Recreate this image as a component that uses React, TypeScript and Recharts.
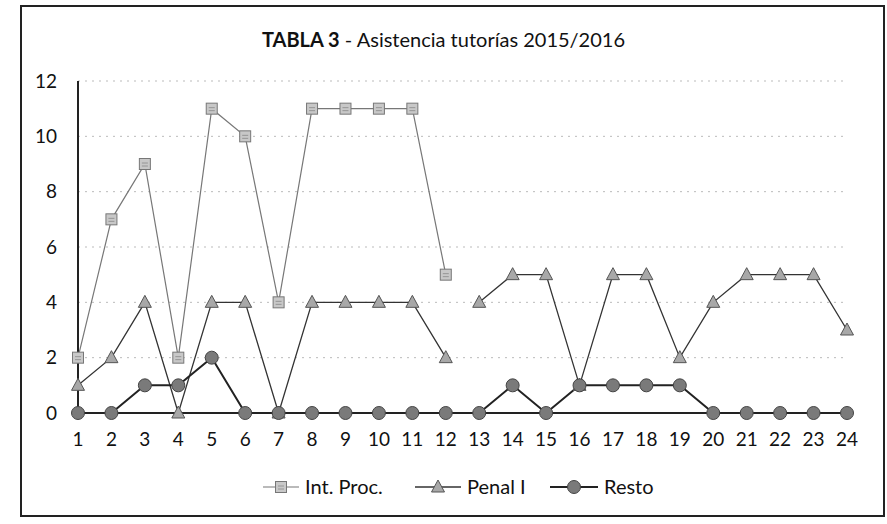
import React from "react";
import { LineChart, Line, XAxis, YAxis, CartesianGrid, Legend } from "recharts";

const categories = [1, 2, 3, 4, 5, 6, 7, 8, 9, 10, 11, 12, 13, 14, 15, 16, 17, 18, 19, 20, 21, 22, 23, 24];
const intProc: (number | null)[] = [2, 7, 9, 2, 11, 10, 4, 11, 11, 11, 11, 5, null, null, null, null, null, null, null, null, null, null, null, null];
const penalI: number[] = [1, 2, 4, 0, 4, 4, 0, 4, 4, 4, 4, 2, 4, 5, 5, 1, 5, 5, 2, 4, 5, 5, 5, 3];
const resto: number[] = [0, 0, 1, 1, 2, 0, 0, 0, 0, 0, 0, 0, 0, 1, 0, 1, 1, 1, 1, 0, 0, 0, 0, 0];
const penalBreakAfter = 12; // the Penal I line is not drawn between 12 and 13
const yTicks = [0, 2, 4, 6, 8, 10, 12];
const seriesNames = ["Int. Proc.", "Penal I", "Resto"];

const data = categories.map((c, i) => ({
  cat: c,
  intProc: intProc[i],
  penalA: i < penalBreakAfter ? penalI[i] : null,
  penalB: i >= penalBreakAfter ? penalI[i] : null,
  resto: resto[i],
}));

const FONT = "Lato, 'Open Sans', sans-serif";

const SquareDot = (props: any) => {
  const { cx, cy } = props;
  if (cx == null || cy == null || props.value == null) return null;
  return (
    <g>
      <rect x={cx - 5.5} y={cy - 5.5} width={11} height={11} fill="#c8c8c8" stroke="#777" strokeWidth={1} />
      <line x1={cx - 3} y1={cy - 1} x2={cx + 3} y2={cy - 1} stroke="#888" strokeWidth={0.8} />
      <line x1={cx - 3} y1={cy + 2} x2={cx + 3} y2={cy + 2} stroke="#888" strokeWidth={0.8} />
    </g>
  );
};

const TriDot = (props: any) => {
  const { cx, cy } = props;
  if (cx == null || cy == null || props.value == null) return null;
  return (
    <polygon
      points={`${cx},${cy - 7} ${cx - 6.5},${cy + 5} ${cx + 6.5},${cy + 5}`}
      fill="#a8a8a8"
      stroke="#555"
      strokeWidth={1}
    />
  );
};

const CircleDot = (props: any) => {
  const { cx, cy } = props;
  if (cx == null || cy == null || props.value == null) return null;
  return <circle cx={cx} cy={cy} r={6.5} fill="#7a7a7a" stroke="#444" strokeWidth={1} />;
};

const LegendContent = () => {
  const items = [
    { name: seriesNames[0], color: "#777", w: 1.2, Dot: SquareDot, x: 263, tx: 305 },
    { name: seriesNames[1], color: "#333", w: 1.3, Dot: TriDot, x: 415, tx: 467 },
    { name: seriesNames[2], color: "#222", w: 2, Dot: CircleDot, x: 550, tx: 604 },
  ];
  return (
    <svg width={887} height={30} style={{ display: "block" }}>
      {items.map((it) => (
        <g key={it.name}>
          <line x1={it.x} y1={15} x2={it.tx - 6} y2={15} stroke={it.color} strokeWidth={it.w} />
          <it.Dot cx={(it.x + it.tx - 6) / 2} cy={15} value={1} />
          <text x={it.tx} y={22} fontSize={20} fontFamily={FONT} fill="#111">
            {it.name}
          </text>
        </g>
      ))}
    </svg>
  );
};

export default function App() {
  return (
    <div style={{ position: "absolute", left: 0, top: 0, width: 887, height: 524, background: "#fff" }}>
      <div
        style={{
          position: "absolute",
          left: 20,
          top: 5,
          width: 861,
          height: 508,
          border: "2px solid #222",
        }}
      />
      <div
        style={{
          position: "absolute",
          left: 0,
          top: 27,
          width: 887,
          textAlign: "center",
          fontFamily: FONT,
          fontSize: 20,
          color: "#111",
        }}
      >
        <span style={{ fontWeight: 700 }}>TABLA 3</span> - Asistencia tutorías 2015/2016
      </div>
      <div style={{ position: "absolute", left: 0, top: 0 }}>
        <LineChart width={887} height={524} data={data} margin={{ top: 81, right: 40, bottom: 0, left: 0 }}>
          <CartesianGrid vertical={false} stroke="#bbb" strokeDasharray="2 5" />
          <XAxis
            dataKey="cat"
            axisLine={{ stroke: "#222", strokeWidth: 2 }}
            tickLine={false}
            tickSize={6}
            tickMargin={14}
            height={81}
            interval={0}
            tick={{ fontSize: 19, fontFamily: FONT, fill: "#111" }}
          />
          <YAxis
            width={78}
            domain={[0, 12]}
            ticks={yTicks}
            axisLine={{ stroke: "#222", strokeWidth: 2 }}
            tickLine={false}
            tickSize={6}
            tickMargin={15}
            tick={{ fontSize: 19, fontFamily: FONT, fill: "#111" }}
          />
          <Legend verticalAlign="bottom" wrapperStyle={{ top: 472, left: 0 }} content={<LegendContent />} />
          <Line
            dataKey="intProc"
            name={seriesNames[0]}
            stroke="#777"
            strokeWidth={1.2}
            dot={<SquareDot />}
            isAnimationActive={false}
            connectNulls={false}
          />
          <Line
            dataKey="penalA"
            name={seriesNames[1]}
            stroke="#333"
            strokeWidth={1.3}
            dot={<TriDot />}
            isAnimationActive={false}
            connectNulls={false}
          />
          <Line
            dataKey="penalB"
            name={seriesNames[1] + " (cont.)"}
            legendType="none"
            stroke="#333"
            strokeWidth={1.3}
            dot={<TriDot />}
            isAnimationActive={false}
            connectNulls={false}
          />
          <Line
            dataKey="resto"
            name={seriesNames[2]}
            stroke="#222"
            strokeWidth={2}
            dot={<CircleDot />}
            isAnimationActive={false}
          />
        </LineChart>
      </div>
    </div>
  );
}
